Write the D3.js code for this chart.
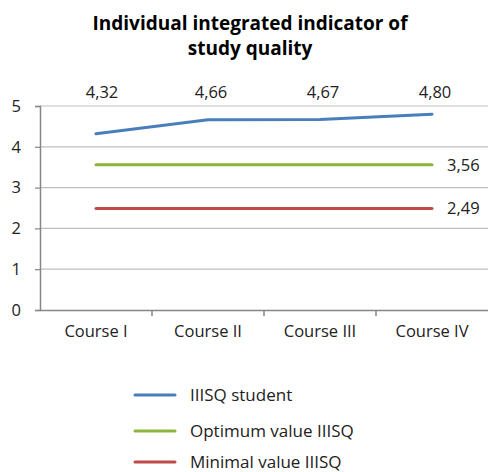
<!DOCTYPE html>
<html><head><meta charset="utf-8">
<script src="https://cdn.jsdelivr.net/npm/d3@7/dist/d3.min.js"></script>
<style>body{margin:0;background:#fff}</style>
</head><body>
<svg id="c" width="488" height="472"></svg>
<script>
const categories = ["Course I", "Course II", "Course III", "Course IV"];
const student = [4.32, 4.66, 4.67, 4.80];
const optimum = [3.56, 3.56, 3.56, 3.56];
const minimal = [2.49, 2.49, 2.49, 2.49];
const seriesNames = ["IIISQ student", "Optimum value IIISQ", "Minimal value IIISQ"];
const colors = ["#4a7ebb", "#8db43e", "#be4b48"];
const yTicks = [0, 1, 2, 3, 4, 5];
const studentLabels = ["4,32", "4,66", "4,67", "4,80"];
const optLabel = "3,56", minLabel = "2,49";

(function () {
const svg = d3.select("#c");
const font = "'Open Sans', 'Noto Sans', sans-serif";
const fs = "16.5px";
const mLeft = 40, mRight = 488, mTop = 106, mBottom = 310;
const x = d3.scaleBand().domain(categories).range([mLeft, mRight]);
const y = d3.scaleLinear().domain([0, 5]).range([mBottom, mTop]);

// title
svg.append("text").attr("x", 250).attr("y", 30).attr("text-anchor", "middle")
  .style("font-family", font).style("font-weight", "bold").style("font-size", "19px").attr("fill", "#000")
  .text("Individual integrated indicator of");
svg.append("text").attr("x", 250).attr("y", 55).attr("text-anchor", "middle")
  .style("font-family", font).style("font-weight", "bold").style("font-size", "19px").attr("fill", "#000")
  .text("study quality");

// gridlines
svg.append("g").selectAll("line").data(yTicks.filter(d => d > 0)).join("line")
  .attr("x1", mLeft).attr("x2", mRight).attr("y1", d => y(d)).attr("y2", d => y(d))
  .attr("stroke", "#bfbfbf").attr("stroke-width", 1.2);

// y axis
const ya = svg.append("g").attr("transform", `translate(${mLeft},0)`)
  .call(d3.axisLeft(y).tickValues(yTicks).tickSize(5).tickPadding(14).tickFormat(d3.format("d")));
ya.select(".domain").attr("stroke", "#868686").attr("stroke-width", 1.5);
ya.selectAll(".tick line").attr("stroke", "#868686").attr("stroke-width", 1.2);
ya.selectAll("text").style("font-family", font).style("font-size", fs).attr("fill", "#222");

// x axis
const xa = svg.append("g").attr("transform", `translate(0,${mBottom})`)
  .call(d3.axisBottom(x).tickSize(0).tickPadding(15));
xa.select(".domain").attr("stroke", "#868686").attr("stroke-width", 1.5);
xa.selectAll("text").style("font-family", font).style("font-size", fs).attr("fill", "#222");
svg.append("g").selectAll("line").data(categories.slice(1)).join("line")
  .attr("x1", d => x(d)).attr("x2", d => x(d)).attr("y1", mBottom).attr("y2", mBottom + 6)
  .attr("stroke", "#868686").attr("stroke-width", 1.5);

// lines
const line = d3.line().x((d, i) => x(categories[i]) + x.bandwidth() / 2).y(d => y(d));
[student, optimum, minimal].forEach((s, k) => {
  svg.append("path").datum(s).attr("d", line).attr("fill", "none")
    .attr("stroke", colors[k]).attr("stroke-width", 3).attr("stroke-linecap", "round");
});

// data labels
svg.append("g").selectAll("text").data(studentLabels).join("text")
  .attr("x", (d, i) => x(categories[i]) + x.bandwidth() / 2 + (i === 0 ? 6 : 3)).attr("y", 98)
  .attr("text-anchor", "middle").style("font-family", font).style("font-size", fs).attr("fill", "#222")
  .text(d => d);
const lastX = x(categories[3]) + x.bandwidth() / 2;
svg.append("text").attr("x", lastX + 15).attr("y", y(optimum[3]) + 6)
  .style("font-family", font).style("font-size", fs).attr("fill", "#222").text(optLabel);
svg.append("text").attr("x", lastX + 15).attr("y", y(minimal[3]) + 6)
  .style("font-family", font).style("font-size", fs).attr("fill", "#222").text(minLabel);

// legend
const ly = [395, 431, 462];
seriesNames.forEach((n, k) => {
  svg.append("line").attr("x1", 135).attr("x2", 175).attr("y1", ly[k]).attr("y2", ly[k])
    .attr("stroke", colors[k]).attr("stroke-width", 3).attr("stroke-linecap", "round");
  svg.append("text").attr("x", 190).attr("y", ly[k] + 6)
    .style("font-family", font).style("font-size", "17px").attr("fill", "#222").text(n);
});
})();
</script>
</body></html>
